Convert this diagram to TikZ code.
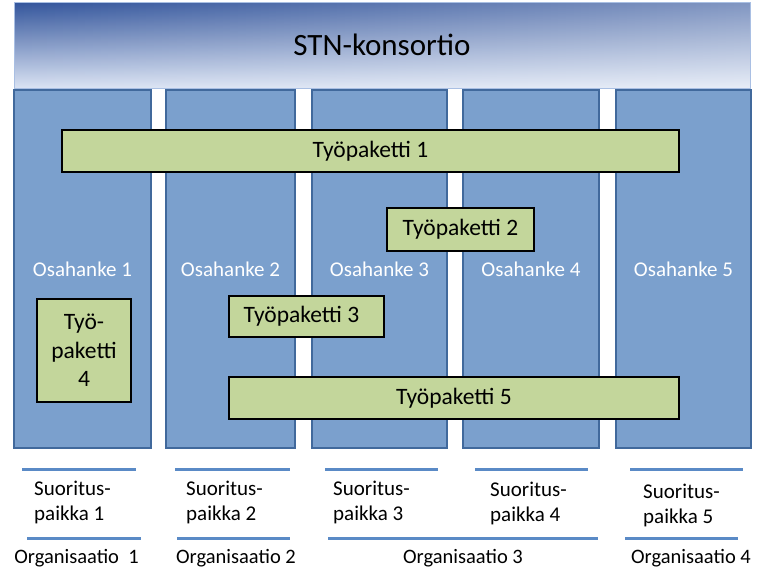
\documentclass[tikz,border=0pt]{standalone}
\usepackage{fontspec}
\setmainfont{Carlito}
\usepackage{tikz}
\usetikzlibrary{fadings}
\definecolor{colfill}{HTML}{7BA0CD}
\definecolor{colline}{HTML}{41699C}
\definecolor{wpgreen}{HTML}{C3D69B}
\definecolor{siteblue}{HTML}{5A8AC6}
\definecolor{headtop}{HTML}{33559C}
\definecolor{headbot}{HTML}{DAE3F3}
\definecolor{headedge}{HTML}{A9BFE3}
\tikzfading[name=fadetoright, left color=transparent!100, right color=transparent!62]

\begin{document}
\begin{tikzpicture}[x=1pt,y=-1pt,
    header/.style={rectangle,draw=headedge,line width=1pt,top color=headtop,bottom color=headbot,
      minimum width=736pt,minimum height=86pt,inner sep=0pt,font=\fontsize{31}{36}\selectfont,
      path picture={\fill[white,path fading=fadetoright] (path picture bounding box.south west) rectangle (path picture bounding box.north east);}},
    column/.style={rectangle,draw=colline,line width=1.8pt,fill=colfill,minimum height=358pt,
      inner sep=0pt,text=white,font=\fontsize{21}{25}\selectfont},
    wp/.style={rectangle,draw=black,line width=1.1pt,fill=wpgreen,inner sep=0pt,align=center,
      font=\fontsize{23.5}{28.5}\selectfont},
    siteline/.style={draw=siteblue,line width=3pt},
    site/.style={anchor=west,align=left,inner sep=0pt,font=\fontsize{21}{25}\selectfont},
    org/.style={inner sep=0pt,font=\fontsize{20.5}{24}\selectfont}]
  \useasboundingbox (0,0) rectangle (772,584);
  % consortium
  \node[header] (stn) at (382,45) {STN-konsortio};
  % sub-projects
  \foreach \n/\xa/\xb in {1/14/151, 2/166/295, 3/312/447, 4/463/599, 5/616/751}
    \node[column,minimum width=\xb pt-\xa pt] (osa\n) at ({(\xa+\xb)/2},269) {Osahanke \n};
  % work packages
  \node[wp,minimum width=617pt,minimum height=42pt] (wp1) at (370.5,151) {Työpaketti 1};
  \node[wp,minimum width=147pt,minimum height=43pt] (wp2) at (460.5,229.5) {Työpaketti 2};
  \node[wp,minimum width=155pt,minimum height=41pt] (wp3) at (306.5,316.5) {Työpaketti 3\hspace{10pt}};
  \node[wp,minimum width=94pt,minimum height=103pt] (wp4) at (84,350.5) {Työ-\\paketti\\4};
  \node[wp,minimum width=450pt,minimum height=42pt] (wp5) at (454,398) {Työpaketti 5};
  % sites
  \foreach \xa/\xb in {22/136, 175/290, 325/438, 475/588, 630/743}
    \draw[siteline] (\xa,469) -- (\xb,469);
  \foreach \xa/\xb in {27/141, 177/290, 328/598, 625/738}
    \draw[siteline] (\xa,538) -- (\xb,538);
  \node[site] (sp1) at (34,502) {Suoritus-\\paikka 1};
  \node[site] (sp2) at (186,502) {Suoritus-\\paikka 2};
  \node[site] (sp3) at (333,502) {Suoritus-\\paikka 3};
  \node[site] (sp4) at (490,503) {Suoritus-\\paikka 4};
  \node[site] (sp5) at (643,505) {Suoritus-\\paikka 5};
  % organisations
  \node[org] (org1) at (76.5,558) {Organisaatio~ 1};
  \node[org] (org2) at (236,558) {Organisaatio 2};
  \node[org] (org3) at (463,558) {Organisaatio 3};
  \node[org] (org4) at (691,558) {Organisaatio 4};
\end{tikzpicture}
\end{document}
